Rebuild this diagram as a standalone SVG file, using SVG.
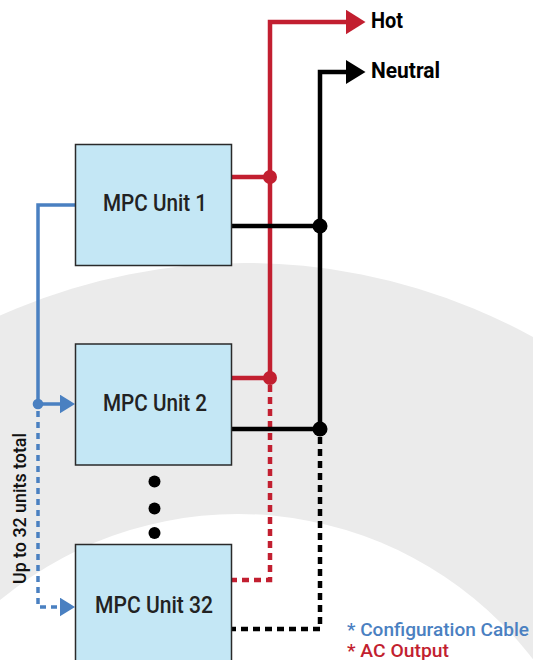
<svg xmlns="http://www.w3.org/2000/svg" width="533" height="660" viewBox="0 0 533 660">
  <style>
    .box { fill: #c4e7f5; stroke: #2a2a2a; stroke-width: 1.5; }
    .lbl { font-family: Roboto, "Liberation Sans", Arial, sans-serif; font-size: 23px; font-weight: 500; fill: #222; text-anchor: middle; }
    .out { font-family: Roboto, "Liberation Sans", Arial, sans-serif; font-size: 21.5px; font-weight: bold; fill: #000; }
    .red { stroke: #c21f30; stroke-width: 4.5; fill: none; }
    .blk { stroke: #000; stroke-width: 4.5; fill: none; }
    .blu { stroke: #4a80c1; stroke-width: 3.5; fill: none; }
    .dash { stroke-dasharray: 7 5; }
    .dashb { stroke-dasharray: 6 5; }
    .leg { font-family: Roboto, "Liberation Sans", Arial, sans-serif; font-size: 17.5px; font-weight: 500; }
  </style>
  <defs>
    <marker id="arRed" viewBox="0 -12.5 20 25" refX="0" refY="0" markerWidth="20" markerHeight="25" markerUnits="userSpaceOnUse" orient="auto">
      <path d="M0,-12.25 L19.5,0 L0,12.25 Z" fill="#c21f30"/>
    </marker>
    <marker id="arBlk" viewBox="0 -12.5 20 25" refX="0" refY="0" markerWidth="20" markerHeight="25" markerUnits="userSpaceOnUse" orient="auto">
      <path d="M0,-12 L19.5,0 L0,12 Z" fill="#000"/>
    </marker>
    <marker id="arBlu" viewBox="0 -9.5 15 19" refX="0" refY="0" markerWidth="15" markerHeight="19" markerUnits="userSpaceOnUse" orient="auto">
      <path d="M0,-9.3 L15,0 L0,9.3 Z" fill="#4a80c1"/>
    </marker>
  </defs>

  <g id="background">
    <rect x="0" y="0" width="533" height="660" fill="#ffffff"/>
    <circle cx="245" cy="860" r="597" fill="#ebebeb"/>
    <circle cx="238" cy="886" r="372" fill="#ffffff"/>
  </g>

  <g id="connectors">
    <!-- Hot -->
    <path class="red" d="M232,177 H270"/>
    <path class="red" d="M232,378 H270"/>
    <path class="red" d="M270,378 V22 H346" marker-end="url(#arRed)"/>
    <path class="red dash" d="M270,385 V580 H232"/>
    <circle cx="270" cy="177" r="7" fill="#c21f30"/>
    <circle cx="270" cy="378" r="7" fill="#c21f30"/>
    <!-- Neutral -->
    <path class="blk" d="M232,226 H320"/>
    <path class="blk" d="M232,429 H320"/>
    <path class="blk" d="M320,429 V72 H346" marker-end="url(#arBlk)"/>
    <path class="blk dash" d="M320,437 V629 H232"/>
    <circle cx="320" cy="226" r="7.5" fill="#000"/>
    <circle cx="320" cy="429" r="7.5" fill="#000"/>
    <!-- Configuration cable -->
    <path class="blu" d="M75.5,205 H38 V404 H60" marker-end="url(#arBlu)"/>
    <path class="blu dashb" d="M38,411 V607 H60" marker-end="url(#arBlu)"/>
    <circle cx="38" cy="404" r="5.3" fill="#4a80c1"/>
  </g>

  <g id="unit1">
    <rect class="box" x="75.5" y="144.5" width="156" height="121"/>
    <text class="lbl" x="155" y="211" textLength="104" lengthAdjust="spacingAndGlyphs">MPC Unit 1</text>
  </g>
  <g id="unit2">
    <rect class="box" x="75.5" y="344" width="156" height="121"/>
    <text class="lbl" x="155" y="410.5" textLength="104" lengthAdjust="spacingAndGlyphs">MPC Unit 2</text>
  </g>
  <g id="ellipsis">
    <circle cx="154.5" cy="481.5" r="6" fill="#000"/>
    <circle cx="154.5" cy="508.5" r="6" fill="#000"/>
    <circle cx="154.5" cy="533" r="6" fill="#000"/>
  </g>
  <g id="unit32">
    <rect class="box" x="75.5" y="544.5" width="156" height="130"/>
    <text class="lbl" x="154" y="613" textLength="118" lengthAdjust="spacingAndGlyphs">MPC Unit 32</text>
  </g>

  <g id="hot">
    <text class="out" x="371" y="28" textLength="32" lengthAdjust="spacingAndGlyphs">Hot</text>
  </g>
  <g id="neutral">
    <text class="out" x="371" y="78" textLength="69" lengthAdjust="spacingAndGlyphs">Neutral</text>
  </g>

  <g id="units-total">
    <text transform="translate(25.5,508.5) rotate(-90)" font-family="Roboto, Liberation Sans, Arial, sans-serif" font-size="18" font-weight="500" fill="#111" text-anchor="middle" textLength="151" lengthAdjust="spacingAndGlyphs">Up to 32 units total</text>
  </g>

  <g id="legend">
    <text class="leg" x="347" y="636" fill="#4a80c1" textLength="182" lengthAdjust="spacingAndGlyphs">* Configuration Cable</text>
    <text class="leg" x="347" y="657" fill="#c21f30" textLength="102" lengthAdjust="spacingAndGlyphs">* AC Output</text>
  </g>
</svg>
